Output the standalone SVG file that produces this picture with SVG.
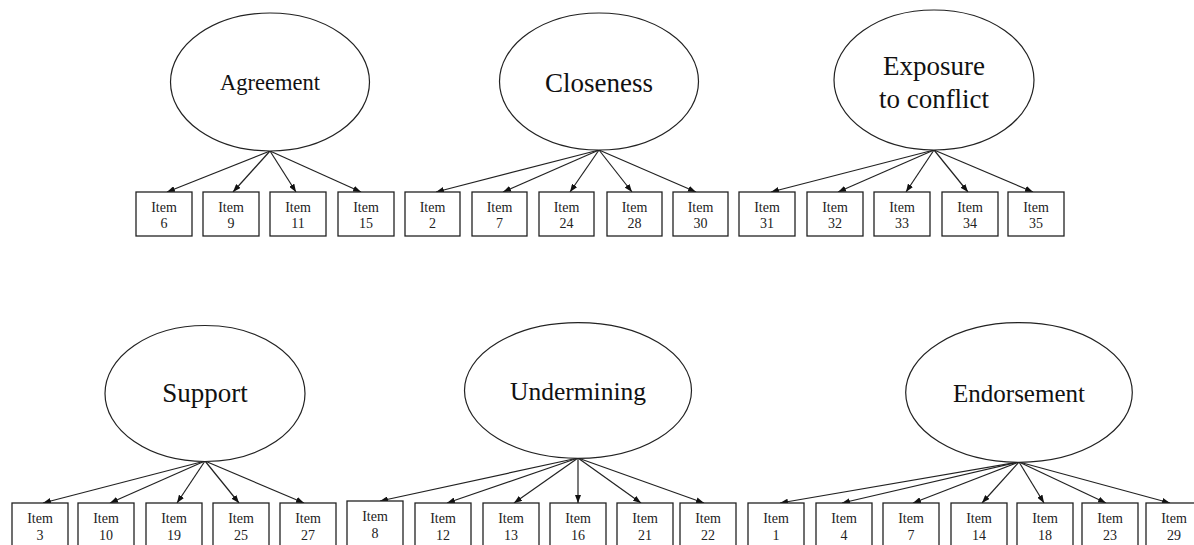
<svg xmlns="http://www.w3.org/2000/svg" width="1194" height="545" viewBox="0 0 1194 545">
<style>
.lat{fill:#fff;stroke:#222;stroke-width:1.2}
.box{fill:#fff;stroke:#222;stroke-width:1.3}
.lt{font-family:"Liberation Serif","Times New Roman",serif;fill:#111;text-anchor:middle}
.it{font-family:"Liberation Serif","Times New Roman",serif;font-size:14px;fill:#222;text-anchor:middle}
.cn{stroke:#222;stroke-width:1.2;fill:none;marker-end:url(#ah)}
</style>
<defs>
<marker id="ah" markerUnits="userSpaceOnUse" markerWidth="8" markerHeight="6" refX="8" refY="3" orient="auto">
<path d="M0,0 L8,3 L0,6 z" fill="#111"/>
</marker>
</defs>
<rect width="1194" height="545" fill="#fff"/>
<g id="connectors">
<path class="cn" d="M270,151 L167,192"/>
<path class="cn" d="M270,151 L233,192"/>
<path class="cn" d="M270,151 L296,192"/>
<path class="cn" d="M270,151 L361,192"/>
<path class="cn" d="M599,150 L436,192"/>
<path class="cn" d="M599,150 L503,192"/>
<path class="cn" d="M599,150 L570,192"/>
<path class="cn" d="M599,150 L632,192"/>
<path class="cn" d="M599,150 L696,192"/>
<path class="cn" d="M934,150 L771,192"/>
<path class="cn" d="M934,150 L838,192"/>
<path class="cn" d="M934,150 L906,192"/>
<path class="cn" d="M934,150 L968,192"/>
<path class="cn" d="M934,150 L1033,192"/>
<path class="cn" d="M205,461 L43,503"/>
<path class="cn" d="M205,461 L110,503"/>
<path class="cn" d="M205,461 L177,503"/>
<path class="cn" d="M205,461 L239,503"/>
<path class="cn" d="M205,461 L304,503"/>
<path class="cn" d="M578,458 L380,501"/>
<path class="cn" d="M578,458 L447,503"/>
<path class="cn" d="M578,458 L514,503"/>
<path class="cn" d="M578,458 L578,503"/>
<path class="cn" d="M578,458 L641,503"/>
<path class="cn" d="M578,458 L704,503"/>
<path class="cn" d="M1019,462 L780,503"/>
<path class="cn" d="M1019,462 L842,503"/>
<path class="cn" d="M1019,462 L913,503"/>
<path class="cn" d="M1019,462 L982,503"/>
<path class="cn" d="M1019,462 L1044,503"/>
<path class="cn" d="M1019,462 L1106,503"/>
<path class="cn" d="M1019,462 L1170,503"/>
</g>
<g id="agreement"><ellipse class="lat" cx="270" cy="82" rx="99.5" ry="69"/><text class="lt" x="270" y="90" font-size="22.5">Agreement</text></g>
<g id="closeness"><ellipse class="lat" cx="599" cy="81.5" rx="99.5" ry="68.5"/><text class="lt" x="599" y="91.5" font-size="27">Closeness</text></g>
<g id="exposure"><ellipse class="lat" cx="934" cy="80" rx="100" ry="70"/><text class="lt" x="934" y="75" font-size="27">Exposure</text><text class="lt" x="934" y="108" font-size="27">to conflict</text></g>
<g id="support"><ellipse class="lat" cx="205" cy="393.5" rx="100" ry="68"/><text class="lt" x="205" y="401.5" font-size="27">Support</text></g>
<g id="undermining"><ellipse class="lat" cx="578" cy="390.5" rx="113.5" ry="67.8"/><text class="lt" x="578" y="400" font-size="25.5">Undermining</text></g>
<g id="endorsement"><ellipse class="lat" cx="1019" cy="392.5" rx="113.3" ry="69.8"/><text class="lt" x="1019" y="401.5" font-size="25">Endorsement</text></g>
<g id="item-a6"><rect class="box" x="136" y="192" width="56" height="44"/><text class="it" x="164" y="212">Item</text><text class="it" x="164" y="228">6</text></g>
<g id="item-a9"><rect class="box" x="203" y="192" width="56" height="44"/><text class="it" x="231" y="212">Item</text><text class="it" x="231" y="228">9</text></g>
<g id="item-a11"><rect class="box" x="270" y="192" width="56" height="44"/><text class="it" x="298" y="212">Item</text><text class="it" x="298" y="228">11</text></g>
<g id="item-a15"><rect class="box" x="338" y="192" width="56" height="44"/><text class="it" x="366" y="212">Item</text><text class="it" x="366" y="228">15</text></g>
<g id="item-c2"><rect class="box" x="405" y="192" width="55" height="44"/><text class="it" x="432.5" y="212">Item</text><text class="it" x="432.5" y="228">2</text></g>
<g id="item-c7"><rect class="box" x="472" y="192" width="55" height="44"/><text class="it" x="499.5" y="212">Item</text><text class="it" x="499.5" y="228">7</text></g>
<g id="item-c24"><rect class="box" x="539" y="192" width="55" height="44"/><text class="it" x="566.5" y="212">Item</text><text class="it" x="566.5" y="228">24</text></g>
<g id="item-c28"><rect class="box" x="607" y="192" width="55" height="44"/><text class="it" x="634.5" y="212">Item</text><text class="it" x="634.5" y="228">28</text></g>
<g id="item-c30"><rect class="box" x="673" y="192" width="55" height="44"/><text class="it" x="700.5" y="212">Item</text><text class="it" x="700.5" y="228">30</text></g>
<g id="item-e31"><rect class="box" x="739" y="192" width="56" height="44"/><text class="it" x="767" y="212">Item</text><text class="it" x="767" y="228">31</text></g>
<g id="item-e32"><rect class="box" x="807" y="192" width="56" height="44"/><text class="it" x="835" y="212">Item</text><text class="it" x="835" y="228">32</text></g>
<g id="item-e33"><rect class="box" x="874" y="192" width="56" height="44"/><text class="it" x="902" y="212">Item</text><text class="it" x="902" y="228">33</text></g>
<g id="item-e34"><rect class="box" x="942" y="192" width="56" height="44"/><text class="it" x="970" y="212">Item</text><text class="it" x="970" y="228">34</text></g>
<g id="item-e35"><rect class="box" x="1008" y="192" width="56" height="44"/><text class="it" x="1036" y="212">Item</text><text class="it" x="1036" y="228">35</text></g>
<g id="item-s3"><rect class="box" x="12" y="503" width="56" height="44"/><text class="it" x="40" y="523">Item</text><text class="it" x="40" y="540">3</text></g>
<g id="item-s10"><rect class="box" x="78" y="503" width="56" height="44"/><text class="it" x="106" y="523">Item</text><text class="it" x="106" y="540">10</text></g>
<g id="item-s19"><rect class="box" x="146" y="503" width="56" height="44"/><text class="it" x="174" y="523">Item</text><text class="it" x="174" y="540">19</text></g>
<g id="item-s25"><rect class="box" x="213" y="503" width="56" height="44"/><text class="it" x="241" y="523">Item</text><text class="it" x="241" y="540">25</text></g>
<g id="item-s27"><rect class="box" x="280" y="503" width="56" height="44"/><text class="it" x="308" y="523">Item</text><text class="it" x="308" y="540">27</text></g>
<g id="item-u8"><rect class="box" x="347" y="501" width="56" height="46"/><text class="it" x="375" y="521">Item</text><text class="it" x="375" y="538">8</text></g>
<g id="item-u12"><rect class="box" x="415" y="503" width="56" height="44"/><text class="it" x="443" y="523">Item</text><text class="it" x="443" y="540">12</text></g>
<g id="item-u13"><rect class="box" x="483" y="503" width="56" height="44"/><text class="it" x="511" y="523">Item</text><text class="it" x="511" y="540">13</text></g>
<g id="item-u16"><rect class="box" x="550" y="503" width="56" height="44"/><text class="it" x="578" y="523">Item</text><text class="it" x="578" y="540">16</text></g>
<g id="item-u21"><rect class="box" x="617" y="503" width="56" height="44"/><text class="it" x="645" y="523">Item</text><text class="it" x="645" y="540">21</text></g>
<g id="item-u22"><rect class="box" x="680" y="503" width="56" height="44"/><text class="it" x="708" y="523">Item</text><text class="it" x="708" y="540">22</text></g>
<g id="item-n1"><rect class="box" x="748" y="503" width="56" height="44"/><text class="it" x="776" y="523">Item</text><text class="it" x="776" y="540">1</text></g>
<g id="item-n4"><rect class="box" x="816" y="503" width="56" height="44"/><text class="it" x="844" y="523">Item</text><text class="it" x="844" y="540">4</text></g>
<g id="item-n7"><rect class="box" x="883" y="503" width="56" height="44"/><text class="it" x="911" y="523">Item</text><text class="it" x="911" y="540">7</text></g>
<g id="item-n14"><rect class="box" x="951" y="503" width="56" height="44"/><text class="it" x="979" y="523">Item</text><text class="it" x="979" y="540">14</text></g>
<g id="item-n18"><rect class="box" x="1017" y="503" width="56" height="44"/><text class="it" x="1045" y="523">Item</text><text class="it" x="1045" y="540">18</text></g>
<g id="item-n23"><rect class="box" x="1082" y="503" width="56" height="44"/><text class="it" x="1110" y="523">Item</text><text class="it" x="1110" y="540">23</text></g>
<g id="item-n29"><rect class="box" x="1146" y="503" width="56" height="44"/><text class="it" x="1174" y="523">Item</text><text class="it" x="1174" y="540">29</text></g>
</svg>
